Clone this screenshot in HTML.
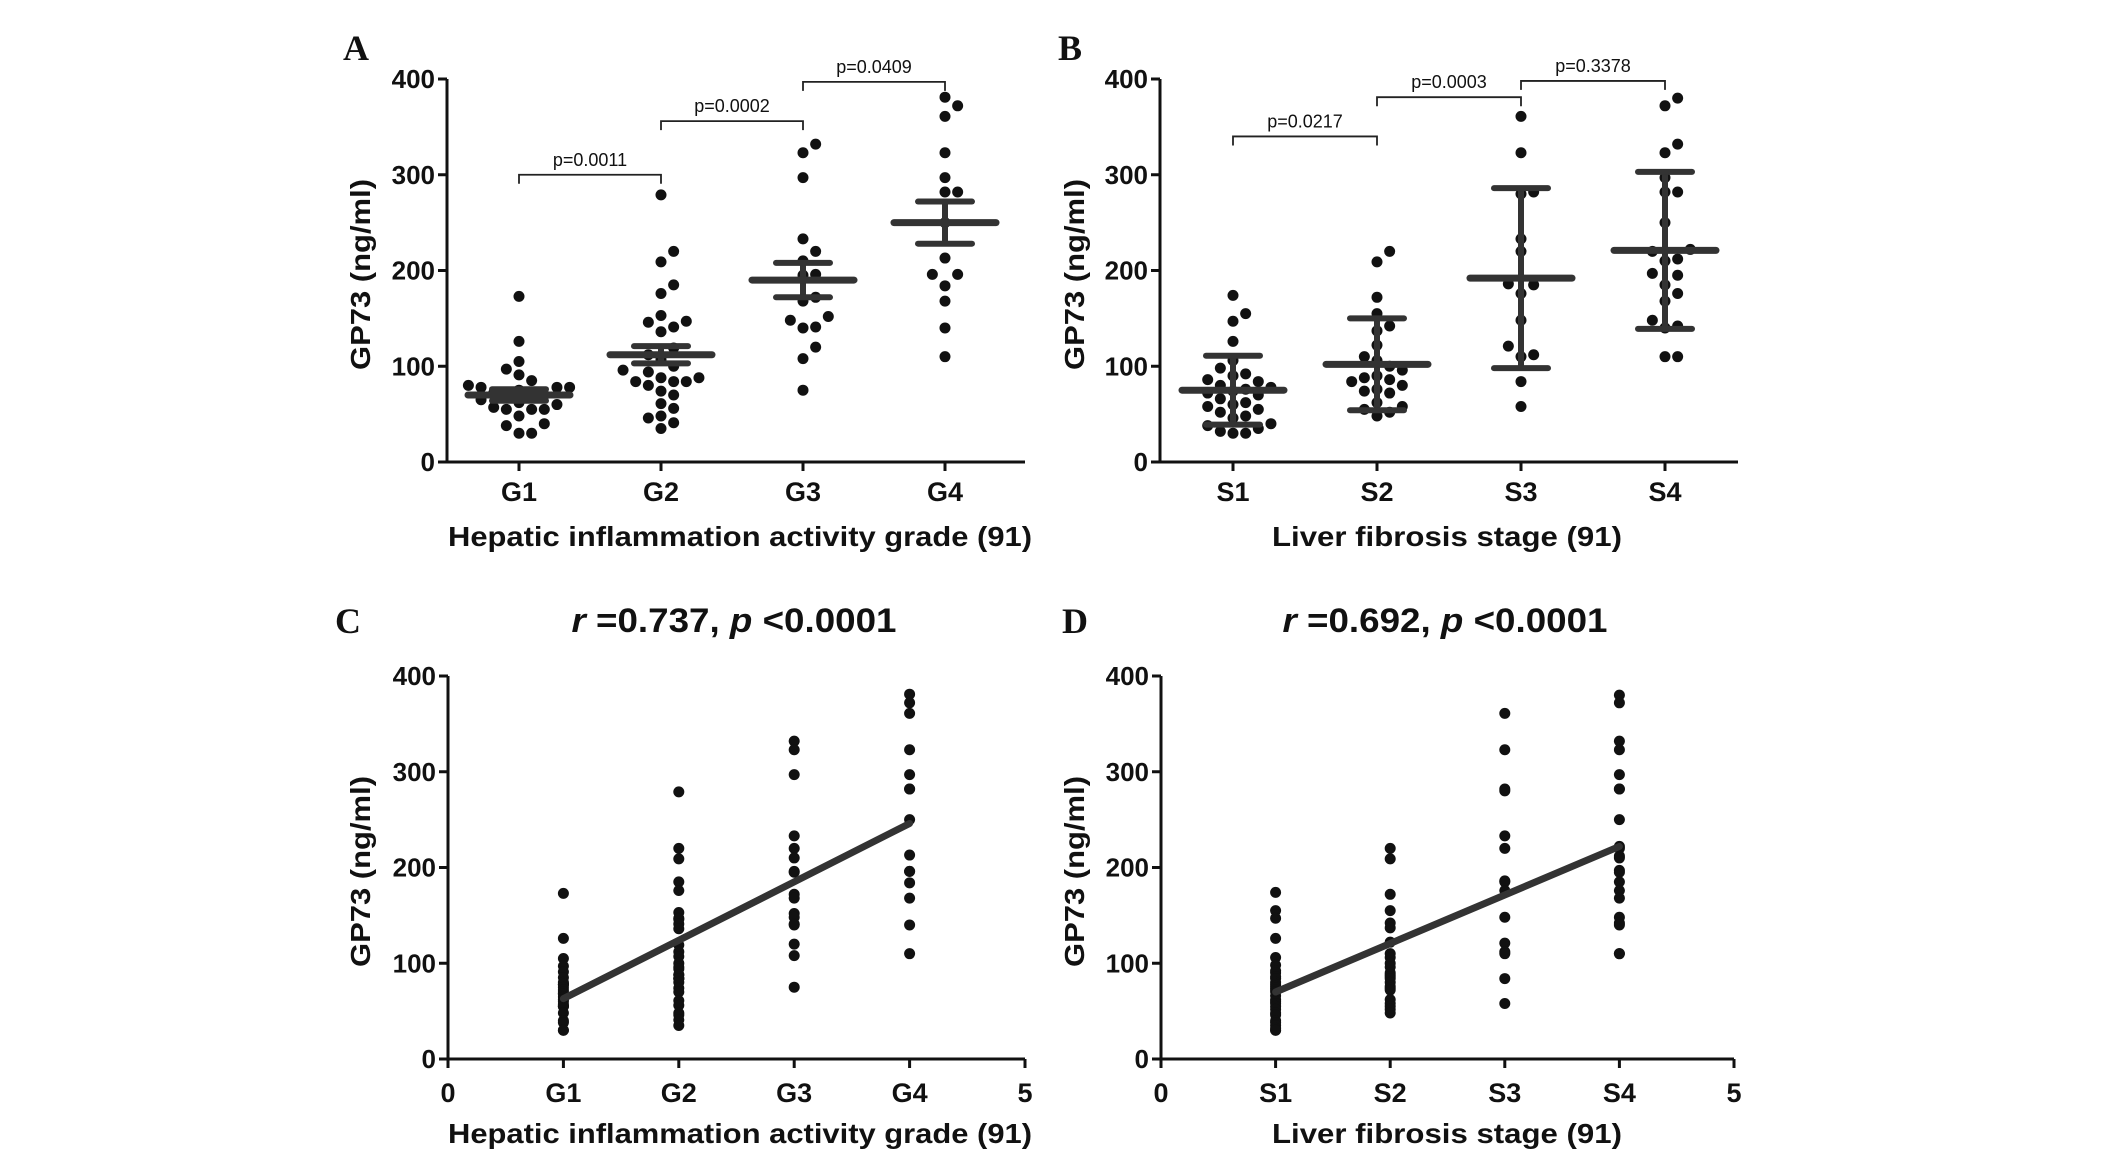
<!DOCTYPE html>
<html><head><meta charset="utf-8">
<style>
html,body{margin:0;padding:0;background:#fff;}
svg{display:block;}
text{font-family:"Liberation Sans",Arial,sans-serif;fill:#111;}
</style></head>
<body>
<svg id="fig" width="2126" height="1170" viewBox="0 0 2126 1170" xmlns="http://www.w3.org/2000/svg"></svg>
<script>
// ---- data ----
const gradeCats = ["G1","G2","G3","G4"];
const stageCats = ["S1","S2","S3","S4"];
const gradeG1 = [173,126,105,97,91,85,80,78,78,78,75,72,70,68,68,65,62,60,57,55,55,55,48,40,38,30,30];
const gradeG2 = [279,220,209,185,176,153,147,146,141,136,119,112,107,100,96,94,88,88,84,84,84,80,74,70,61,56,48,46,41,35];
const gradeG3 = [332,323,297,233,220,210,196,195,172,168,152,148,141,140,120,108,75];
const gradeG4 = [381,372,361,323,297,282,282,250,213,196,196,184,168,140,110];
const stageS1 = [174,155,147,126,106,98,92,90,86,84,80,78,76,74,72,70,66,62,60,58,55,52,48,46,40,38,35,32,30,30];
const stageS2 = [220,209,172,155,142,137,122,110,106,100,96,90,88,86,84,80,76,74,72,62,58,55,52,48];
const stageS3 = [361,323,282,280,233,220,186,185,176,148,121,112,110,84,58];
const stageS4 = [380,372,332,323,297,282,282,250,222,220,212,210,197,195,185,176,168,148,142,140,110,110];
const gradeMean = [70,112,190,250];
const gradeSEM = [6,9,18,22];
const stageMean = [75,102,192,221];
const stageSD = [36,48,94,82];
const gradePvals = ["p=0.0011","p=0.0002","p=0.0409"];
const gradePlevels = [300,356,397];
const stagePvals = ["p=0.0217","p=0.0003","p=0.3378"];
const stagePlevels = [340,381,398];
const yTicks = [0,100,200,300,400];
const xTicksNum = [0,1,2,3,4,5];
const fitC = [[1,63],[4,246]];
const fitD = [[1,70],[4,222]];

const NS="http://www.w3.org/2000/svg";
const svg=document.getElementById('fig');
function el(tag,attrs,parent,txt){const e=document.createElementNS(NS,tag);for(const k in attrs)e.setAttribute(k,attrs[k]);if(txt!==undefined)e.textContent=txt;(parent||svg).appendChild(e);return e;}

function axes(g,o){
  const {x0,x1,yTop,yBot}=o;
  const ys=v=>yBot-(v/400)*(yBot-yTop);
  const yl=el('line',{x1:x0,y1:yTop,x2:x0,y2:yBot+1.5,stroke:'#111','stroke-width':3},g);
  
  const xl=el('line',{x1:x0-1.5,y1:yBot,x2:x1,y2:yBot,stroke:'#111','stroke-width':3},g);
  
  yTicks.forEach(v=>{
    const y=ys(v);
    const t=el('line',{x1:x0-9,y1:y,x2:x0,y2:y,stroke:'#111','stroke-width':3},g);
    
    const l=el('text',{x:x0-12,y:y+9,'text-anchor':'end','font-size':26,'font-weight':'bold'},g,String(v));
    
  });
  const yt=el('text',{x:0,y:0,'text-anchor':'middle','font-size':28,'font-weight':'bold',textLength:191,lengthAdjust:'spacingAndGlyphs',transform:`translate(${o.ytx},${(yTop+yBot)/2+4}) rotate(-90)`},g,'GP73 (ng/ml)');
  
  const xt=el('text',{x:o.xtx,y:o.xty,'text-anchor':'middle','font-size':28,'font-weight':'bold',textLength:o.xtl,lengthAdjust:'spacingAndGlyphs'},g,o.xtitle);
  
  return ys;
}

function swarm(vals,cx,ys,r,g){
  const placed=[];
  const sorted=vals.slice().sort((a,b)=>a-b);
  sorted.forEach(v=>{
    const y=ys(v);let off=0;
    for(let k=0;k<40;k++){
      const cand=k===0?0:(k%2?1:-1)*Math.ceil(k/2)*r*2.3;
      const ok=placed.every(p=>Math.hypot(p[0]-(cx+cand),p[1]-y)>=r*2.2);
      if(ok){off=cand;break;}
    }
    placed.push([cx+off,y]);
    const c=el('circle',{cx:cx+off,cy:y,r:r,fill:'#111'},g);
    
  });
}

function dotPanel(o){
  const g=el('g',{});
  
  const ys=axes(g,o);
  const xc=i=>o.x0+o.off+o.step*i;
  o.cats.forEach((c,i)=>{
    const x=xc(i);
    const t=el('line',{x1:x,y1:o.yBot,x2:x,y2:o.yBot+9,stroke:'#111','stroke-width':3},g);
    
    const l=el('text',{x:x,y:o.yBot+39,'text-anchor':'middle','font-size':27,'font-weight':'bold'},g,c);
    
    swarm(o.groups[i],x,ys,5.5,g);
    const m=o.mean[i],e=o.err[i];
    const eb=el('line',{x1:x,y1:ys(m+e),x2:x,y2:ys(m-e),stroke:'#333','stroke-width':6},g);
    
    [m+e,m-e].forEach(v=>{
      const w=el('line',{x1:x-27,y1:ys(v),x2:x+27,y2:ys(v),stroke:'#333','stroke-width':6,'stroke-linecap':'round'},g);
      
    });
    const ml=el('line',{x1:x-51,y1:ys(m),x2:x+51,y2:ys(m),stroke:'#333','stroke-width':7,'stroke-linecap':'round'},g);
    
  });
  o.pv.forEach((p,i)=>{
    const y=ys(o.pl[i]),a=xc(i),b=xc(i+1);
    const br=el('path',{d:`M${a},${y+9}V${y}H${b}V${y+9}`,fill:'none',stroke:'#222','stroke-width':1.8},g);
    
    const t=el('text',{x:(a+b)/2,y:y-9,'text-anchor':'middle','font-size':18},g,p);
    
  });
}

function corrPanel(o){
  const g=el('g',{});
  
  const ys=axes(g,o);
  const xs=v=>o.x0+v/5*(o.x1-o.x0);
  xTicksNum.forEach(v=>{
    const x=xs(v);
    const t=el('line',{x1:x,y1:o.yBot,x2:x,y2:o.yBot+9,stroke:'#111','stroke-width':3},g);
    
    const lab=(v>=1&&v<=4)?o.cats[v-1]:String(v);
    const l=el('text',{x:x,y:o.yBot+43,'text-anchor':'middle','font-size':27,'font-weight':'bold'},g,lab);
    
  });
  o.groups.forEach((arr,i)=>{
    arr.forEach(v=>{
      const c=el('circle',{cx:xs(i+1),cy:ys(v),r:5.5,fill:'#111'},g);
      
    });
  });
  const f=o.fit;
  const ln=el('line',{x1:xs(f[0][0]),y1:ys(f[0][1]),x2:xs(f[1][0]),y2:ys(f[1][1]),stroke:'#333','stroke-width':7,'stroke-linecap':'round'},g);
  
  const h=el('text',{x:o.hx,y:o.hy,'text-anchor':'middle','font-size':34,'font-weight':'bold',textLength:325,lengthAdjust:'spacingAndGlyphs'},g);
  
  el('tspan',{'font-style':'italic'},h,'r');
  el('tspan',{},h,' =' + o.r + ', ');
  el('tspan',{'font-style':'italic'},h,'p');
  el('tspan',{},h,' <0.0001');
}

function letter(t,x,y){
  const e=el('text',{x:x,y:y,'font-size':36,'font-weight':'bold',style:'font-family:"Liberation Serif",serif'},svg,t);
  
}

dotPanel({name:'panel-a',x0:447,x1:1025,off:72,step:142,yTop:79,yBot:462,ytx:370,xtx:740,xty:546,xtl:584,xtitle:'Hepatic inflammation activity grade (91)',cats:gradeCats,groups:[gradeG1,gradeG2,gradeG3,gradeG4],mean:gradeMean,err:gradeSEM,pv:gradePvals,pl:gradePlevels});
dotPanel({name:'panel-b',x0:1160,x1:1738,off:73,step:144,yTop:79,yBot:462,ytx:1084,xtx:1447,xty:546,xtl:350,xtitle:'Liver fibrosis stage (91)',cats:stageCats,groups:[stageS1,stageS2,stageS3,stageS4],mean:stageMean,err:stageSD,pv:stagePvals,pl:stagePlevels});
corrPanel({name:'panel-c',x0:448,x1:1025,yTop:676,yBot:1059,ytx:370,xtx:740,xty:1143,xtl:584,xtitle:'Hepatic inflammation activity grade (91)',cats:gradeCats,groups:[gradeG1,gradeG2,gradeG3,gradeG4],fit:fitC,r:'0.737',hx:734,hy:632});
corrPanel({name:'panel-d',x0:1161,x1:1734,yTop:676,yBot:1059,ytx:1084,xtx:1447,xty:1143,xtl:350,xtitle:'Liver fibrosis stage (91)',cats:stageCats,groups:[stageS1,stageS2,stageS3,stageS4],fit:fitD,r:'0.692',hx:1445,hy:632});
letter('A',343,60);letter('B',1058,60);letter('C',335,633);letter('D',1062,633);
</script>
</body></html>
